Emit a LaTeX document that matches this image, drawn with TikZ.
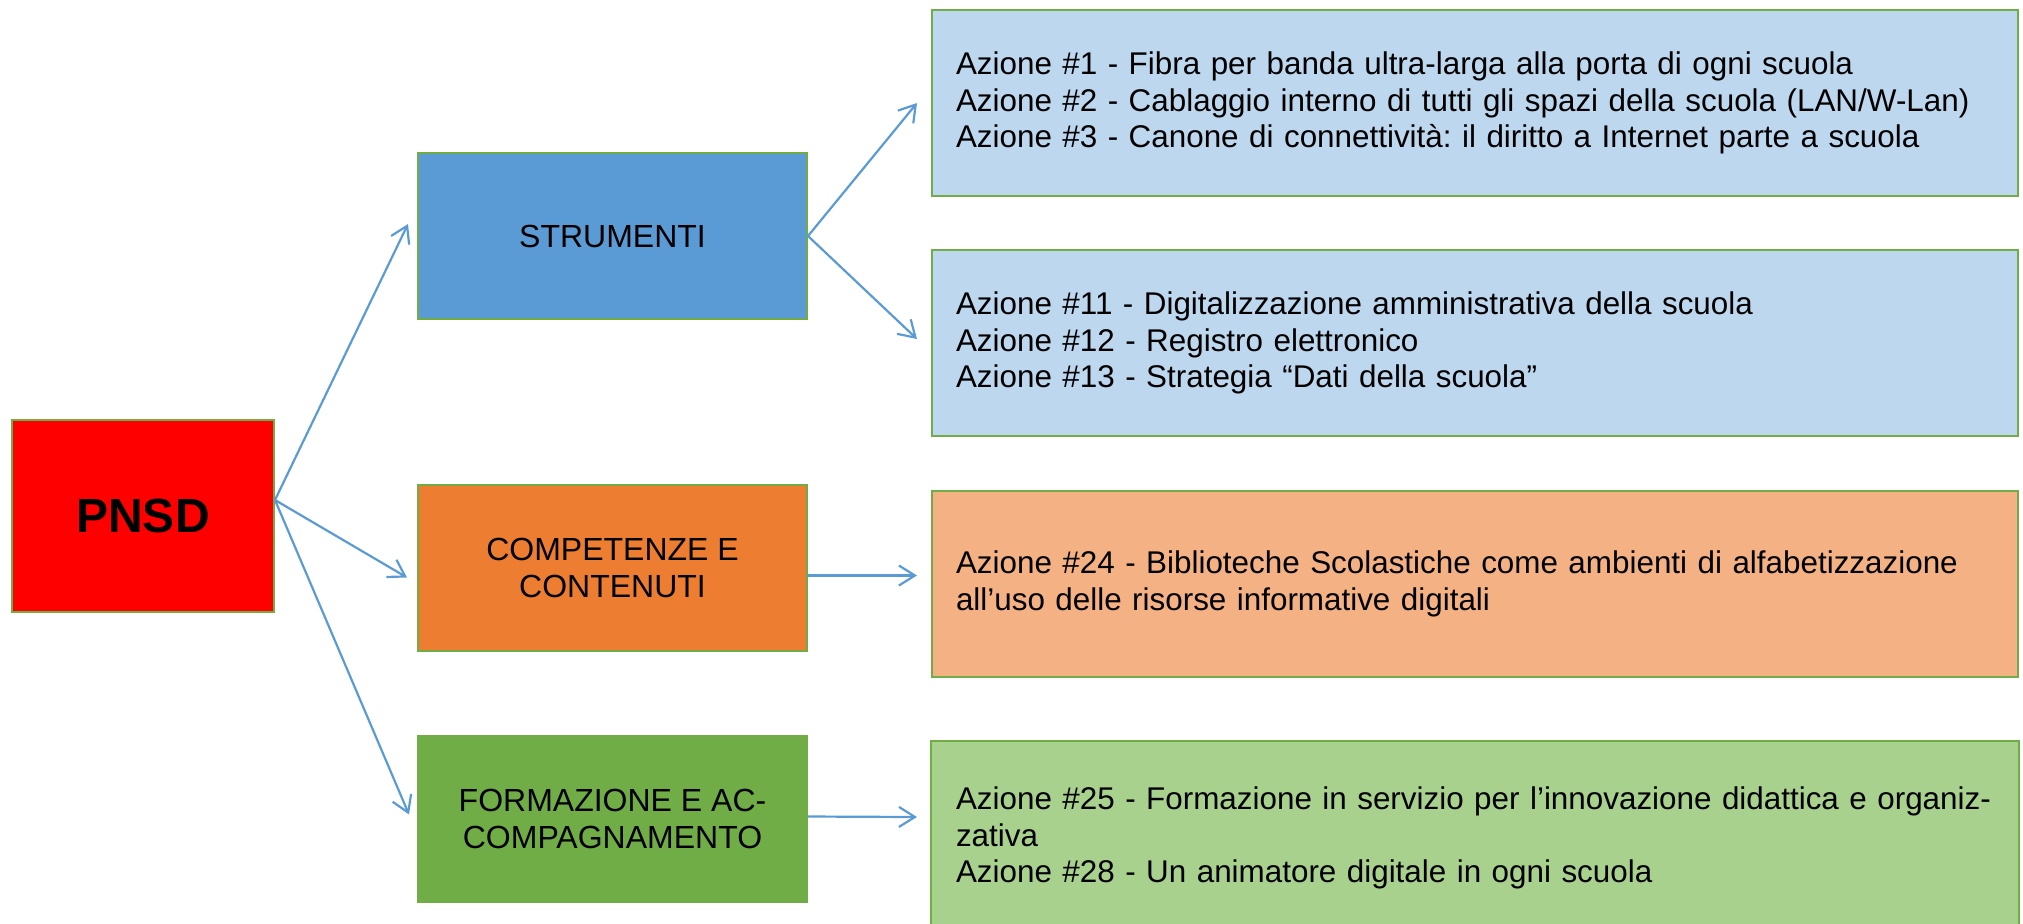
\documentclass[tikz,border=0pt]{standalone}
\usepackage{fontspec}
\setmainfont{Liberation Sans}
\usetikzlibrary{arrows.meta}
\definecolor{bordergreen}{HTML}{70AD47}
\definecolor{arrowblue}{HTML}{5B9BD5}
\definecolor{midblue}{HTML}{5B9BD5}
\definecolor{midorange}{HTML}{ED7D31}
\definecolor{midgreen}{HTML}{70AD47}
\definecolor{lightblue}{HTML}{BDD7EE}
\definecolor{lightorange}{HTML}{F4B183}
\definecolor{lightgreen}{HTML}{A9D18E}
\tikzset{
  basebox/.style={draw=bordergreen, line width=1pt, anchor=north west, inner sep=0pt},
  midbox/.style={basebox, minimum width=194.5pt, minimum height=83pt, align=center,
     font=\fontsize{16pt}{18.4pt}\selectfont},
  actbox/.style={basebox, minimum width=543pt, minimum height=93pt, align=left,
     text width=519pt, inner xsep=12pt, font=\fontsize{15.7pt}{18.4pt}\selectfont\frenchspacing},
  conn/.style={draw=arrowblue, line width=1.1pt, -{Straight Barb[length=8pt,width=10pt,line width=1.1pt]}},
}
\begin{document}
\begin{tikzpicture}[x=0.5pt,y=-0.5pt]
\useasboundingbox (0,0) rectangle (2023,923);
\node[basebox, fill=red, minimum width=131pt, minimum height=96pt,
      font=\fontsize{24pt}{28pt}\selectfont\bfseries] (pnsd) at (11,419) {PNSD};
\node[midbox, fill=midblue] (strum) at (417,152) {STRUMENTI};
\node[midbox, fill=midorange] (comp) at (417,484) {COMPETENZE E\\CONTENUTI};
\node[midbox, fill=midgreen, draw=midgreen] (form) at (417,735) {FORMAZIONE E AC-\\COMPAGNAMENTO};
\node[actbox, fill=lightblue] (a1) at (931,9) {\mbox{Azione \#1 - Fibra per banda ultra-larga alla porta di ogni scuola}\\\mbox{Azione \#2 - Cablaggio interno di tutti gli spazi della scuola (LAN/W-Lan)}\\\mbox{Azione \#3 - Canone di connettività: il diritto a Internet parte a scuola}};
\node[actbox, fill=lightblue] (a2) at (931,249) {\mbox{Azione \#11 - Digitalizzazione amministrativa della scuola}\\\mbox{Azione \#12 - Registro elettronico}\\\mbox{Azione \#13 - Strategia “Dati della scuola”}};
\node[actbox, fill=lightorange] (a3) at (931,490) {\mbox{Azione \#24 - Biblioteche Scolastiche come ambienti di alfabetizzazione}\\\mbox{all’uso delle risorse informative digitali}};
\node[actbox, fill=lightgreen, draw=none, minimum height=96pt] (a4) at (931,741) {\mbox{Azione \#25 - Formazione in servizio per l’innovazione didattica e organiz-}\\\mbox{zativa}\\\mbox{Azione \#28 - Un animatore digitale in ogni scuola}};
\draw[draw=bordergreen, line width=1pt] ([yshift=-4pt]a4.south west) -- (a4.north west) -- (a4.north east) -- ([yshift=-4pt]a4.south east);
\draw[conn] ([yshift=8pt]pnsd.east) -- ([xshift=-4.5pt,yshift=6pt]strum.west);
\draw[conn] ([yshift=8pt]pnsd.east) -- ([xshift=-5pt,yshift=-4.75pt]comp.west);
\draw[conn] ([yshift=8pt]pnsd.east) -- ([xshift=-4pt,yshift=2.25pt]form.west);
\draw[conn] (strum.east) -- ([xshift=-7pt]a1.west);
\draw[conn] (strum.east) -- ([xshift=-7pt,yshift=2pt]a2.west);
\draw[conn] ([yshift=-3.75pt]comp.east) -- ([xshift=-7pt,yshift=4.25pt]a3.west);
\draw[conn] ([yshift=1.25pt]form.east) -- ([xshift=-7pt,yshift=10.5pt]a4.west);
\end{tikzpicture}
\end{document}
